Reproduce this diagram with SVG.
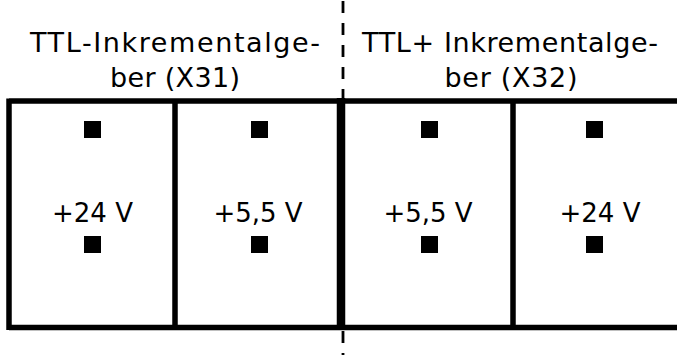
<svg xmlns="http://www.w3.org/2000/svg" width="677" height="355" viewBox="0 0 677 355">
<style>
text{font-family:"DejaVu Sans",sans-serif;font-size:26px;fill:#000;text-anchor:middle}
.t{font-size:27px}
.ln{stroke:#000;stroke-width:5.5;fill:none}
.thick{stroke:#000;stroke-width:8.5;fill:none}
.dash{stroke:#000;stroke-width:2.8;stroke-dasharray:12 10;fill:none}
.pin{fill:#000}
</style>
<rect width="677" height="355" fill="#fff"/>
<g id="titles">
<text class="t" x="175" y="52" textLength="290" lengthAdjust="spacing">TTL-Inkrementalge-</text>
<text class="t" x="175" y="87" textLength="130" lengthAdjust="spacing">ber (X31)</text>
<text class="t" x="510" y="52" textLength="296" lengthAdjust="spacing">TTL+ Inkrementalge-</text>
<text class="t" x="511" y="87" textLength="133" lengthAdjust="spacing">ber (X32)</text>
</g>
<g id="frame">
<path class="ln" d="M9 101H677M9 327.5H677M9 98.5V330M175 101V327.5M513 101V327.5"/>
<path class="thick" d="M341 98V330"/>
</g>
<g id="connectors">
<path class="dash" d="M343 1V355"/>
</g>
<g id="cell1">
<rect class="pin" x="84" y="121" width="17" height="17"/>
<rect class="pin" x="84" y="236" width="17" height="17"/>
<text x="92.5" y="222">+24 V</text>
</g>
<g id="cell2">
<rect class="pin" x="251" y="121" width="17" height="17"/>
<rect class="pin" x="251" y="236" width="17" height="17"/>
<text x="258" y="222">+5,5 V</text>
</g>
<g id="cell3">
<rect class="pin" x="421" y="121" width="17" height="17"/>
<rect class="pin" x="421" y="236" width="17" height="17"/>
<text x="428" y="222">+5,5 V</text>
</g>
<g id="cell4">
<rect class="pin" x="586" y="121" width="17" height="17"/>
<rect class="pin" x="586" y="236" width="17" height="17"/>
<text x="600" y="222">+24 V</text>
</g>
</svg>
